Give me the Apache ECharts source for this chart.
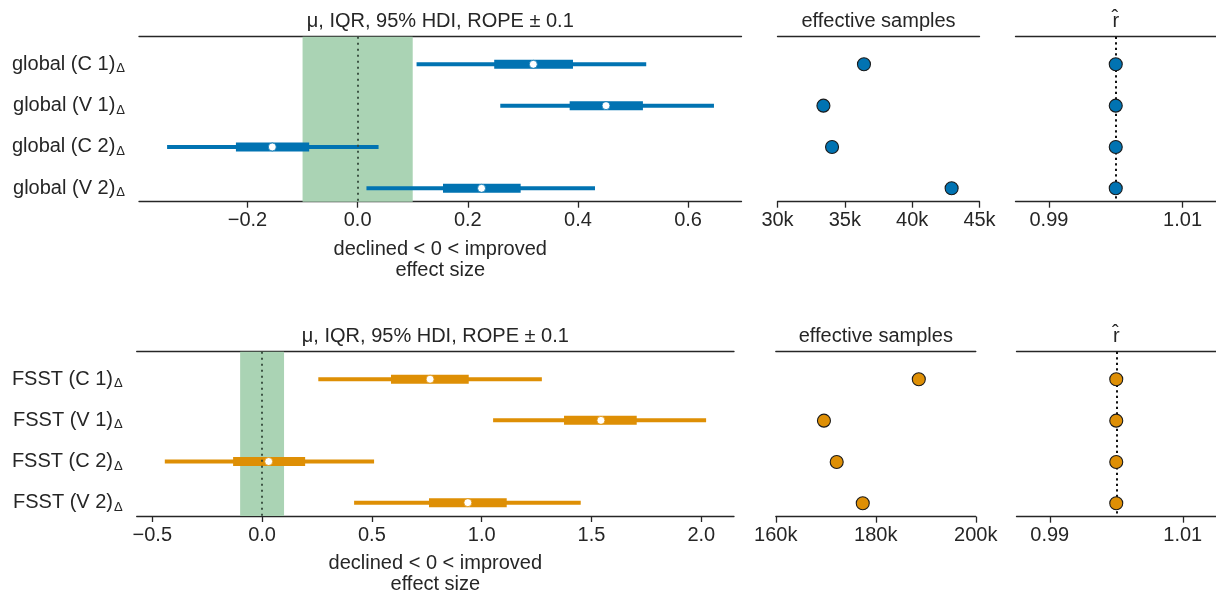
<!DOCTYPE html>
<html><head><meta charset="utf-8">
<script src="https://cdn.jsdelivr.net/npm/echarts@6/dist/echarts.min.js"></script>
<style>html,body{margin:0;padding:0;background:#fff}#c{width:1216px;height:596px}</style>
</head><body><div id="c"></div>
<script>
// ---------- data ----------
const globalRows = ['global (C 1)', 'global (V 1)', 'global (C 2)', 'global (V 2)'];
const globalMedian = [0.319, 0.451, -0.155, 0.225];
const globalIqrLow = [0.248, 0.385, -0.221, 0.155];
const globalIqrHigh = [0.391, 0.518, -0.088, 0.296];
const globalHdiLow = [0.107, 0.259, -0.346, 0.016];
const globalHdiHigh = [0.524, 0.647, 0.038, 0.431];
const globalEss = [36420, 33410, 34050, 42930];
const globalRhat = [1.0, 1.0, 1.0, 1.0];

const fsstRows = ['FSST (C 1)', 'FSST (V 1)', 'FSST (C 2)', 'FSST (V 2)'];
const fsstMedian = [0.765, 1.543, 0.030, 0.937];
const fsstIqrLow = [0.587, 1.375, -0.132, 0.760];
const fsstIqrHigh = [0.941, 1.706, 0.196, 1.114];
const fsstHdiLow = [0.256, 1.052, -0.443, 0.419];
const fsstHdiHigh = [1.274, 2.022, 0.510, 1.451];
const fsstEss = [188600, 169630, 172180, 177390];
const fsstRhat = [1.0, 1.0, 1.0, 1.0];

const globalEffectTicks = [-0.2, 0.0, 0.2, 0.4, 0.6];
const fsstEffectTicks = [-0.5, 0.0, 0.5, 1.0, 1.5, 2.0];
const globalEssTicks = [30000, 35000, 40000, 45000];
const fsstEssTicks = [160000, 180000, 200000];
const rhatTicks = [0.99, 1.01];
const ropeLow = -0.1, ropeHigh = 0.1;

const forestTitle = 'μ, IQR, 95% HDI, ROPE ± 0.1';
const forestXName = 'declined < 0 < improved\neffect size';
const essTitle = 'effective samples';
const rhatTitle = 'r\u0302';

// ---------- style ----------
const FONT = '"Liberation Sans", Arial, Helvetica, sans-serif';
const FS = 20;
const TXT = '#262626';
const BLUE = '#0173b2';
const ORANGE = '#de8f05';
const ROPE = '#aad3b4';
const ZERO = '#34483a';

const chart = echarts.init(document.getElementById('c'), null, {renderer: 'canvas'});

const rowIdx = [0, 1, 2, 3];
const Y_MIN = -0.668, Y_MAX = 3.324;

const panels = [
  {left: 139, width: 602.5, top: 36.7, height: 165},
  {left: 777.5, width: 202, top: 36.7, height: 165},
  {left: 1015.5, width: 200.5, top: 36.7, height: 165},
  {left: 136.7, width: 597.3, top: 351.7, height: 165},
  {left: 775.8, width: 200, top: 351.7, height: 165},
  {left: 1016.5, width: 199.5, top: 351.7, height: 165}
];

const grids = panels.map(p => ({left: p.left, width: p.width, top: p.top, height: p.height, containLabel: false}));

function fmtNum(v, d) {
  const s = Math.abs(v).toFixed(d);
  return v < 0 ? '\u2212' + s : s;
}

function bottomAxis(gi, min, max, ticks, fmt, name) {
  return {
    type: 'value', gridIndex: gi, position: 'bottom', min: min, max: max,
    splitLine: {show: false},
    axisLine: {show: true, onZero: false, lineStyle: {color: TXT, width: 1.3}},
    axisTick: {show: true, length: 6, lineStyle: {color: TXT, width: 1.3}, customValues: ticks},
    axisLabel: {show: true, color: TXT, fontSize: FS, fontFamily: FONT, margin: 9, customValues: ticks, formatter: fmt},
    name: name || '', nameLocation: 'middle', nameGap: 37,
    nameTextStyle: {color: TXT, fontSize: FS, fontFamily: FONT, lineHeight: 21}
  };
}
function topAxis(gi, min, max, name) {
  return {
    type: 'value', gridIndex: gi, position: 'top', min: min, max: max,
    splitLine: {show: false},
    axisLine: {show: true, onZero: false, lineStyle: {color: TXT, width: 1.3}},
    axisTick: {show: false}, axisLabel: {show: false},
    name: name, nameLocation: 'middle', nameGap: 5,
    nameTextStyle: {color: TXT, fontSize: FS, fontFamily: FONT}
  };
}
function yAxis(gi, labels) {
  return {
    type: 'value', gridIndex: gi, min: Y_MIN, max: Y_MAX, inverse: true,
    splitLine: {show: false}, axisLine: {show: false}, axisTick: {show: false},
    axisLabel: labels ? {
      show: true, customValues: rowIdx, margin: 14, fontFamily: FONT,
      formatter: v => '{t|' + labels[Math.round(v)] + '}{s|Δ}',
      rich: {
        t: {fontSize: FS, color: TXT, fontFamily: FONT, lineHeight: 24},
        s: {fontSize: 13, color: TXT, fontFamily: FONT, lineHeight: 13, verticalAlign: 'bottom', padding: [0, 0, 1, 1]}
      }
    } : {show: false}
  };
}

const xAxes = [
  bottomAxis(0, -0.397, 0.697, globalEffectTicks, v => fmtNum(v, 1), forestXName),
  topAxis(0, -0.397, 0.697, forestTitle),
  bottomAxis(1, 30000, 45000, globalEssTicks, v => (v / 1000) + 'k'),
  topAxis(1, 30000, 45000, essTitle),
  bottomAxis(2, 0.985, 1.015, rhatTicks, v => v.toFixed(2)),
  topAxis(2, 0.985, 1.015, rhatTitle),
  bottomAxis(3, -0.571, 2.149, fsstEffectTicks, v => fmtNum(v, 1), forestXName),
  topAxis(3, -0.571, 2.149, forestTitle),
  bottomAxis(4, 160000, 200000, fsstEssTicks, v => (v / 1000) + 'k'),
  topAxis(4, 160000, 200000, essTitle),
  bottomAxis(5, 0.985, 1.015, rhatTicks, v => v.toFixed(2)),
  topAxis(5, 0.985, 1.015, rhatTitle)
];
const yAxes = [
  yAxis(0, globalRows), yAxis(1), yAxis(2),
  yAxis(3, fsstRows), yAxis(4), yAxis(5)
];

function segRender(width, color) {
  return function (params, api) {
    const a = api.coord([api.value(0), api.value(2)]);
    const b = api.coord([api.value(1), api.value(2)]);
    return {type: 'line', shape: {x1: a[0], y1: a[1], x2: b[0], y2: b[1]},
      style: {stroke: color, lineWidth: width, lineCap: 'butt'}};
  };
}

function forestSeries(gi, xi, lows, highs, iqlo, iqhi, med, color) {
  return [
    {
      type: 'line', xAxisIndex: xi, yAxisIndex: gi, data: [], z: 1, silent: true,
      markArea: {silent: true, itemStyle: {color: ROPE, opacity: 1},
        data: [[{xAxis: ropeLow}, {xAxis: ropeHigh}]]},
      markLine: {silent: true, symbol: 'none', label: {show: false},
        lineStyle: {color: ZERO, type: [2, 4], width: 1.8},
        data: [{xAxis: 0}]}
    },
    {type: 'custom', xAxisIndex: xi, yAxisIndex: gi, z: 3, renderItem: segRender(4, color),
      encode: {x: [0, 1], y: 2}, data: rowIdx.map(i => [lows[i], highs[i], i])},
    {type: 'custom', xAxisIndex: xi, yAxisIndex: gi, z: 4, renderItem: segRender(9, color),
      encode: {x: [0, 1], y: 2}, data: rowIdx.map(i => [iqlo[i], iqhi[i], i])},
    {type: 'scatter', xAxisIndex: xi, yAxisIndex: gi, z: 5, symbol: 'circle', symbolSize: 8,
      itemStyle: {color: '#ffffff', borderColor: color, borderWidth: 0.8, opacity: 1},
      data: rowIdx.map(i => [med[i], i])}
  ];
}
function essSeries(gi, xi, vals, color) {
  return [{type: 'scatter', xAxisIndex: xi, yAxisIndex: gi, z: 5, symbol: 'circle', symbolSize: 13,
    itemStyle: {color: color, borderColor: '#1a1a1a', borderWidth: 1.1, opacity: 1},
    data: rowIdx.map(i => [vals[i], i])}];
}
function rhatSeries(gi, xi, vals, color) {
  return [
    {type: 'line', xAxisIndex: xi, yAxisIndex: gi, data: [], z: 1, silent: true,
      markLine: {silent: true, symbol: 'none', label: {show: false},
        lineStyle: {color: '#111111', type: [2.2, 3.3], width: 2},
        data: [{xAxis: 1.0}]}},
    {type: 'scatter', xAxisIndex: xi, yAxisIndex: gi, z: 5, symbol: 'circle', symbolSize: 13,
      itemStyle: {color: color, borderColor: '#1a1a1a', borderWidth: 1.1, opacity: 1},
      data: rowIdx.map(i => [vals[i], i])}
  ];
}

const series = [].concat(
  forestSeries(0, 0, globalHdiLow, globalHdiHigh, globalIqrLow, globalIqrHigh, globalMedian, BLUE),
  essSeries(1, 2, globalEss, BLUE),
  rhatSeries(2, 4, globalRhat, BLUE),
  forestSeries(3, 6, fsstHdiLow, fsstHdiHigh, fsstIqrLow, fsstIqrHigh, fsstMedian, ORANGE),
  essSeries(4, 8, fsstEss, ORANGE),
  rhatSeries(5, 10, fsstRhat, ORANGE)
);

chart.setOption({
  animation: false,
  backgroundColor: '#ffffff',
  textStyle: {fontFamily: FONT},
  grid: grids,
  xAxis: xAxes,
  yAxis: yAxes,
  series: series
});
</script></body></html>
